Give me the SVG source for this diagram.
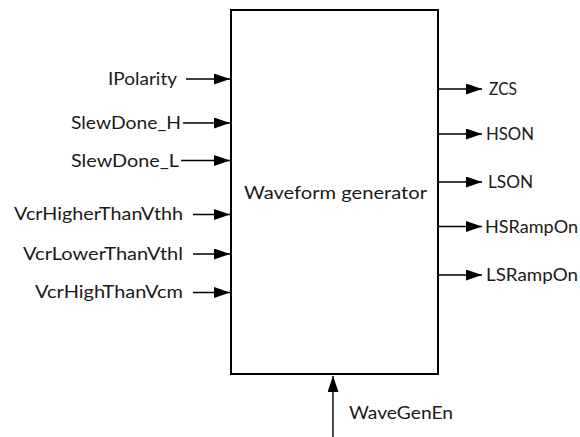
<svg xmlns="http://www.w3.org/2000/svg" width="580" height="437" viewBox="0 0 580 437">
<style>
  text { font-family: Lato, "Liberation Sans", sans-serif; font-size: 17.5px; fill: #1a1a1a; }
  .end { text-anchor: end; }
  .box { fill: #ffffff; stroke: #000000; stroke-width: 2; }
  .wire { stroke: #000000; stroke-width: 1.4; fill: none; marker-end: url(#arr); }
</style>
<defs>
  <marker id="arr" markerUnits="userSpaceOnUse" markerWidth="17" markerHeight="12" refX="16" refY="5.5" orient="auto">
    <path d="M0,0 L16,5.5 L0,11 z" fill="#000000"/>
  </marker>
</defs>
<rect width="580" height="437" fill="#ffffff"/>
<g id="waveform-generator">
  <rect class="box" x="231" y="10" width="207" height="364"/>
  <text x="244" y="198.5" textLength="183" lengthAdjust="spacingAndGlyphs">Waveform generator</text>
</g>
<g id="connectors">
  <line class="wire" x1="186" y1="79" x2="230" y2="79"/>
  <line class="wire" x1="183" y1="123" x2="230" y2="123"/>
  <line class="wire" x1="181" y1="160.5" x2="230" y2="160.5"/>
  <line class="wire" x1="193" y1="214.5" x2="230" y2="214.5"/>
  <line class="wire" x1="193" y1="254" x2="230" y2="254"/>
  <line class="wire" x1="193" y1="292.5" x2="230" y2="292.5"/>
  <line class="wire" x1="439" y1="89" x2="482" y2="89"/>
  <line class="wire" x1="439" y1="134" x2="482" y2="134"/>
  <line class="wire" x1="439" y1="182" x2="482" y2="182"/>
  <line class="wire" x1="439" y1="226.5" x2="482" y2="226.5"/>
  <line class="wire" x1="439" y1="275" x2="482" y2="275"/>
  <line class="wire" x1="333" y1="437" x2="333" y2="376"/>
</g>
<g id="in-ipolarity"><text x="108" y="85" textLength="69" lengthAdjust="spacingAndGlyphs">IPolarity</text></g>
<g id="in-slewdone-h"><text x="71" y="129" textLength="110" lengthAdjust="spacingAndGlyphs">SlewDone_H</text></g>
<g id="in-slewdone-l"><text x="71" y="166.5" textLength="108" lengthAdjust="spacingAndGlyphs">SlewDone_L</text></g>
<g id="in-vcrhigherthanvthh"><text x="14" y="220" textLength="169" lengthAdjust="spacingAndGlyphs">VcrHigherThanVthh</text></g>
<g id="in-vcrlowerthanvthl"><text x="23" y="259.5" textLength="160" lengthAdjust="spacingAndGlyphs">VcrLowerThanVthl</text></g>
<g id="in-vcrhighthanvcm"><text x="35" y="298" textLength="148" lengthAdjust="spacingAndGlyphs">VcrHighThanVcm</text></g>
<g id="out-zcs"><text x="489" y="95" textLength="28" lengthAdjust="spacingAndGlyphs">ZCS</text></g>
<g id="out-hson"><text x="486" y="140" textLength="48" lengthAdjust="spacingAndGlyphs">HSON</text></g>
<g id="out-lson"><text x="488" y="188" textLength="45" lengthAdjust="spacingAndGlyphs">LSON</text></g>
<g id="out-hsrampon"><text x="485" y="232.5" textLength="93" lengthAdjust="spacingAndGlyphs">HSRampOn</text></g>
<g id="out-lsrampon"><text x="486" y="281" textLength="92" lengthAdjust="spacingAndGlyphs">LSRampOn</text></g>
<g id="in-wavegenen"><text x="349" y="419" textLength="104" lengthAdjust="spacingAndGlyphs">WaveGenEn</text></g>
</svg>
